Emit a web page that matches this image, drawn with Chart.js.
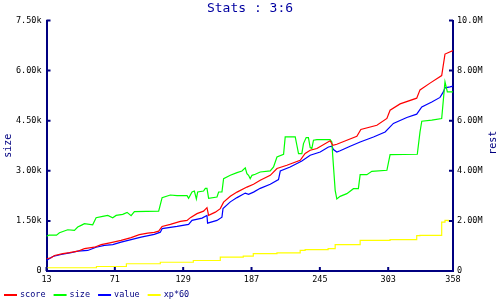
<!DOCTYPE html>
<html><head><meta charset="utf-8">
<script src="https://cdn.jsdelivr.net/npm/chart.js@4/dist/chart.umd.min.js"></script>
<style>html,body{margin:0;padding:0;background:#fff}#wrap{width:500px;height:300px}</style>
</head><body><div id="wrap"><canvas id="c" width="500" height="300"></canvas></div>
<script>
const titleText = 'Stats : 3:6';
const leftAxisTitle = 'size';
const rightAxisTitle = 'rest';
const seriesNames = ['score', 'size', 'value', 'xp*60'];
const seriesColors = ['#ff0000', '#00ff00', '#0000ff', '#ffff00'];

const xTickValues = [13, 71, 129, 187, 245, 303, 358];
const leftTickValues = [0, 1500, 3000, 4500, 6000, 7500];
const leftTickLabels = ['0', '1.50k', '3.00k', '4.50k', '6.00k', '7.50k'];
const rightTickValues = [0, 2, 4, 6, 8, 10];          // millions
const rightTickLabels = ['0', '2.00M', '4.00M', '6.00M', '8.00M', '10.0M'];

// score (right axis, millions)
const scoreX = [13,17,19.8,26.8,32.5,39.5,45.2,53.7,59.4,67.8,76.3,84.8,91.8,98.9,104.5,108.2,111.1,118.1,126.6,132.3,135.1,140.7,146.3,149.2,150.6,156.3,160.5,163.3,169,174.7,183.1,188.7,194.4,202.9,208.6,217,228.3,232.5,236.8,242.5,253.7,256,259.4,267.9,276.4,279.8,293.4,301.9,304.6,313.1,327.2,330,338.5,348.4,351.2,358];
const scoreY = [0.49,0.53,0.62,0.69,0.73,0.79,0.89,0.95,1.05,1.13,1.22,1.33,1.45,1.51,1.54,1.59,1.78,1.86,1.98,2.02,2.13,2.29,2.39,2.53,2.22,2.35,2.49,2.75,2.98,3.15,3.35,3.46,3.62,3.82,4.09,4.22,4.42,4.69,4.82,4.89,5.2,5.02,5.06,5.22,5.38,5.65,5.82,6.09,6.42,6.67,6.9,7.23,7.5,7.8,8.66,8.8];

// size (left axis)
const sizeX = [13,15,21.5,24,31,36.7,39.5,42.4,45.2,52.2,55.1,60.7,65,69.2,72.1,77.7,81.4,84.8,87.6,108.2,111.1,118.1,123.8,132.3,133.6,136.5,138.5,140.2,141.3,146.3,147.8,149.2,150.6,157.7,159.1,161.9,163.3,169,174.7,178.9,181.7,183.1,184.5,185.9,187.4,190.2,194.4,202.9,205.7,208.6,214.2,215.6,224.1,225.5,226.9,229.7,231.1,233.4,235.3,236.8,238.2,239.6,242.5,253.7,255.2,256,258,259.4,262.2,267.9,273.5,277.7,279.2,284.9,289.1,301.9,304.6,327.7,330,331.5,340,348.4,349.8,351.2,353.2,358];
const sizeY = [1040,1075,1075,1145,1235,1215,1315,1365,1415,1385,1595,1635,1665,1595,1665,1695,1755,1655,1775,1795,2195,2275,2255,2255,2175,2365,2395,2155,2365,2395,2475,2475,2175,2215,2365,2365,2765,2865,2945,2995,3090,2915,2865,2765,2865,2895,2965,2995,3115,3415,3495,4015,4015,3765,3515,3515,3815,3995,3995,3695,3665,3915,3935,3935,3865,3415,2415,2155,2235,2315,2465,2465,2885,2885,2985,3015,3485,3495,4165,4485,4515,4565,5115,5665,5365,5365];

// value (right axis, millions)
const valueX = [13,18.3,25.5,33.9,39.5,48,55.1,62.2,69.2,76.3,84.8,93.3,104.5,109.6,111.1,123.8,133.6,136.5,145,149.2,149.7,157.7,161.9,162.8,169,174.7,181.7,184.5,188.7,194.4,202.9,209.9,211.4,219.8,229.7,236.8,245.3,252.3,255.2,256.5,259.4,262.2,270.7,279.2,290.5,300.4,307.4,318.8,327.2,331.5,340,347,349.8,351.2,355.5,358];
const valueY = [0.42,0.58,0.66,0.73,0.79,0.82,0.95,1.02,1.05,1.15,1.25,1.35,1.46,1.55,1.69,1.78,1.86,2.02,2.11,2.22,1.91,2.02,2.15,2.49,2.76,2.93,3.11,3.06,3.15,3.3,3.46,3.65,3.99,4.15,4.39,4.62,4.75,4.95,4.98,4.85,4.75,4.8,4.98,5.15,5.35,5.55,5.89,6.13,6.26,6.55,6.75,6.93,7.15,7.31,7.35,7.38];

// xp*60 (right axis, millions), stepped
const xpX = [13,55.4,80.8,109.6,137.6,160.5,180,188.5,208.6,228.3,232.5,252,258,279.2,304.6,327.2,330,348.4,351.2,354,358];
const xpY = [0.1,0.13,0.18,0.29,0.35,0.42,0.55,0.59,0.69,0.72,0.82,0.85,0.89,1.05,1.22,1.25,1.41,1.42,1.95,2.02,2.0];

const NAVY = '#000080';
const MONO = '"DejaVu Sans Mono", monospace';

function pts(xs, ys) { return xs.map((x, i) => ({x: x, y: ys[i]})); }

const inwardTicks = {
  id: 'inwardTicks',
  afterDraw(chart) {
    const ctx = chart.ctx;
    const a = chart.chartArea;
    const sx = chart.scales.x, sl = chart.scales.yL, sr = chart.scales.yR;
    ctx.save();
    ctx.strokeStyle = NAVY;
    ctx.lineWidth = 2;
    ctx.beginPath();
    sl.ticks.forEach(t => { const y = sl.getPixelForValue(t.value); ctx.moveTo(a.left, y); ctx.lineTo(a.left + 4, y); });
    sr.ticks.forEach(t => { const y = sr.getPixelForValue(t.value); ctx.moveTo(a.right, y); ctx.lineTo(a.right - 4, y); });
    sx.ticks.forEach(t => { const x = sx.getPixelForValue(t.value); ctx.moveTo(x, a.bottom); ctx.lineTo(x, a.bottom - 4); });
    ctx.stroke();

    // right axis title, rotated like the left one
    ctx.fillStyle = NAVY;
    ctx.font = '10px ' + MONO;
    ctx.textAlign = 'center';
    ctx.textBaseline = 'middle';
    ctx.translate(493, (a.top + a.bottom) / 2 - 3);
    ctx.rotate(-Math.PI / 2);
    ctx.fillText(rightAxisTitle, 0, 0);
    ctx.restore();

    // legend
    ctx.save();
    ctx.font = '8.5px ' + MONO;
    ctx.textBaseline = 'middle';
    ctx.textAlign = 'left';
    let x = 4;
    const y = 295;
    chart.data.datasets.forEach(ds => {
      ctx.fillStyle = ds.borderColor;
      ctx.fillRect(x, y - 1, 13, 2);
      ctx.fillStyle = NAVY;
      ctx.fillText(ds.label, x + 16, y);
      x += 16 + ctx.measureText(ds.label).width + 8;
    });
    ctx.restore();
  }
};

new Chart(document.getElementById('c'), {
  type: 'line',
  data: {
    datasets: [
      {label: seriesNames[0], data: pts(scoreX, scoreY), yAxisID: 'yR', borderColor: seriesColors[0]},
      {label: seriesNames[1], data: pts(sizeX, sizeY), yAxisID: 'yL', borderColor: seriesColors[1]},
      {label: seriesNames[2], data: pts(valueX, valueY), yAxisID: 'yR', borderColor: seriesColors[2]},
      {label: seriesNames[3], data: pts(xpX, xpY), yAxisID: 'yR', borderColor: seriesColors[3], stepped: 'after'}
    ].map(d => Object.assign({borderWidth: 1.2, pointRadius: 0, tension: 0, fill: false}, d))
  },
  options: {
    responsive: false,
    animation: false,
    devicePixelRatio: 1,
    layout: {padding: 0},
    plugins: {
      legend: {display: false},
      tooltip: {enabled: false},
      title: {
        display: true, text: titleText, color: '#0000a0',
        font: {family: MONO, size: 13, weight: 'normal', lineHeight: 1.2},
        padding: {top: 1, bottom: 3.9}
      }
    },
    scales: {
      x: {
        type: 'linear', position: 'bottom', min: 13, max: 358,
        afterBuildTicks: s => { s.ticks = xTickValues.map(v => ({value: v})); },
        afterFit: s => { s.height = 29; },
        ticks: {color: '#000', font: {family: MONO, size: 8.5}, padding: 4, maxRotation: 0, autoSkip: false, callback: v => String(v)},
        grid: {display: false, drawTicks: false},
        border: {display: true, color: NAVY, width: 2}
      },
      yL: {
        type: 'linear', position: 'left', min: 0, max: 7500,
        afterBuildTicks: s => { s.ticks = leftTickValues.map(v => ({value: v})); },
        afterFit: s => { s.width = 46.5; },
        ticks: {color: '#000', font: {family: MONO, size: 8.5}, padding: 5, autoSkip: false,
          callback: v => leftTickLabels[leftTickValues.indexOf(v)]},
        grid: {display: false, drawTicks: false},
        border: {display: true, color: NAVY, width: 2},
        title: {display: true, text: leftAxisTitle, color: NAVY, font: {family: MONO, size: 10, lineHeight: 1.2}, padding: {top: 2, bottom: 0}}
      },
      yR: {
        type: 'linear', position: 'right', min: 0, max: 10,
        afterBuildTicks: s => { s.ticks = rightTickValues.map(v => ({value: v})); },
        afterFit: s => { s.width = 47; },
        ticks: {color: '#000', font: {family: MONO, size: 8.5}, padding: 4, autoSkip: false,
          callback: v => rightTickLabels[rightTickValues.indexOf(v)]},
        grid: {display: false, drawTicks: false},
        border: {display: true, color: NAVY, width: 2}
      }
    }
  },
  plugins: [inwardTicks]
});
</script>
</body></html>
